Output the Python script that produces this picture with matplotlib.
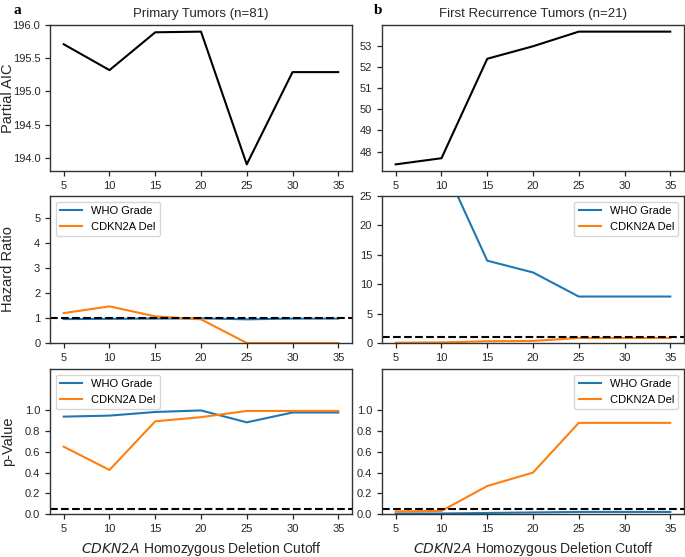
import matplotlib
matplotlib.use('Agg')
import matplotlib.pyplot as plt
import numpy as np

plt.rcParams['font.family'] = ['Liberation Sans', 'DejaVu Sans']

cutoffs = [5, 10, 15, 20, 25, 30, 35]

# partial AIC
aic_primary = [195.71, 195.32, 195.89, 195.90, 193.90, 195.29, 195.29]
aic_recur = [47.40, 47.69, 52.38, 52.97, 53.66, 53.66, 53.66]

# hazard ratios
hr_who_primary = [0.96, 0.97, 0.98, 0.99, 0.95, 0.98, 0.98]
hr_cdkn_primary = [1.20, 1.47, 1.07, 0.95, 0.0, 0.0, 0.0]
hr_who_recur = [31.0, 31.0, 14.0, 12.0, 7.9, 7.9, 7.9]
hr_cdkn_recur = [0.05, 0.10, 0.30, 0.35, 0.85, 0.85, 0.85]

# p-values
p_who_primary = [0.94, 0.95, 0.985, 1.0, 0.885, 0.98, 0.98]
p_cdkn_primary = [0.65, 0.425, 0.895, 0.935, 0.995, 0.995, 0.995]
p_who_recur = [0.005, 0.005, 0.01, 0.015, 0.02, 0.02, 0.02]
p_cdkn_recur = [0.025, 0.03, 0.27, 0.40, 0.88, 0.88, 0.88]

blue = '#1f77b4'
orange = '#ff7f0e'
tc = '#262626'

fig = plt.figure(figsize=(6.85, 5.57), dpi=100)
W, H = 685.0, 557.0


def mkax(x0, x1, y0, y1):
    ax = fig.add_axes([x0 / W, 1 - y1 / H, (x1 - x0) / W, (y1 - y0) / H])
    for s in ax.spines.values():
        s.set_color('#333333')
        s.set_linewidth(1.0)
    ax.tick_params(labelsize=8, colors=tc, length=3.5, width=0.9)
    ax.set_xticks(cutoffs)
    return ax


cols = [(50, 352), (382, 684)]
rows = [(25, 171), (196, 343), (369, 514)]

axs = [[mkax(c[0], c[1], r[0], r[1]) for c in cols] for r in rows]

# row 1 - AIC
axs[0][0].plot(cutoffs, aic_primary, color='black', lw=1.5)
axs[0][0].set_yticks([194.0, 194.5, 195.0, 195.5, 196.0])
axs[0][0].set_ylabel('Partial AIC', fontsize=10.5, color=tc)
axs[0][1].plot(cutoffs, aic_recur, color='black', lw=1.5)
axs[0][1].set_yticks([48, 49, 50, 51, 52, 53])

# row 2 - hazard ratio
ax = axs[1][0]
ax.plot(cutoffs, hr_who_primary, color=blue, lw=1.5, label='WHO Grade')
ax.plot(cutoffs, hr_cdkn_primary, color=orange, lw=1.5, label='CDKN2A Del')
ax.axhline(1, color='black', ls='--', lw=1.5)
ax.set_ylim(0, 5.9)
ax.set_yticks([0, 1, 2, 3, 4, 5])
ax.set_ylabel('Hazard Ratio', fontsize=10.5, color=tc)
ax.legend(loc='upper left', fontsize=8)

ax = axs[1][1]
ax.plot(cutoffs, hr_who_recur, color=blue, lw=1.5, label='WHO Grade')
ax.plot(cutoffs, hr_cdkn_recur, color=orange, lw=1.5, label='CDKN2A Del')
ax.axhline(1, color='black', ls='--', lw=1.5)
ax.set_ylim(0, 25)
ax.set_yticks([0, 5, 10, 15, 20, 25])
ax.legend(loc='upper right', fontsize=8)

# row 3 - p-values
ax = axs[2][0]
ax.plot(cutoffs, p_who_primary, color=blue, lw=1.5, label='WHO Grade')
ax.plot(cutoffs, p_cdkn_primary, color=orange, lw=1.5, label='CDKN2A Del')
ax.axhline(0.05, color='black', ls='--', lw=1.5)
ax.set_ylim(0, 1.4)
ax.set_yticks([0.0, 0.2, 0.4, 0.6, 0.8, 1.0])
ax.set_ylabel('p-Value', fontsize=10.5, color=tc)
ax.legend(loc='upper left', fontsize=8)

ax = axs[2][1]
ax.plot(cutoffs, p_who_recur, color=blue, lw=1.5, label='WHO Grade')
ax.plot(cutoffs, p_cdkn_recur, color=orange, lw=1.5, label='CDKN2A Del')
ax.axhline(0.05, color='black', ls='--', lw=1.5)
ax.set_ylim(0, 1.4)
ax.set_yticks([0.0, 0.2, 0.4, 0.6, 0.8, 1.0])
ax.legend(loc='upper right', fontsize=8)

for a in axs[2]:
    a.set_xlabel('$\\it{CDKN2A}$ Homozygous Deletion Cutoff', fontsize=10, color=tc)
    a.xaxis.set_label_coords(0.5, -0.18)

for row in axs:
    row[0].yaxis.set_label_coords(-0.115, 0.5)

axs[0][0].set_title('Primary Tumors (n=81)', fontsize=9.5, color=tc, pad=6)
axs[0][1].set_title('First Recurrence Tumors (n=21)', fontsize=9.5, color=tc, pad=6)

fig.text(14 / W, 1 - 10 / H, 'a', fontsize=11, fontweight='bold', family='Liberation Serif', va='center')
fig.text(374 / W, 1 - 10 / H, 'b', fontsize=11, fontweight='bold', family='Liberation Serif', va='center')

fig.savefig('out.png', dpi=100)
